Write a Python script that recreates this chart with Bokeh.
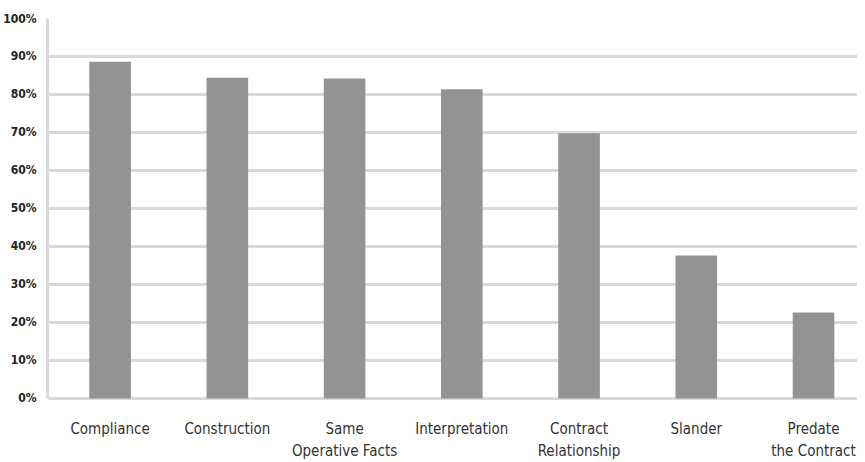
from bokeh.plotting import figure
from bokeh.models import ColumnDataSource, Range1d, FixedTicker
from bokeh.embed import file_html
from bokeh.resources import INLINE

categories = ["Compliance", "Construction", "Same\nOperative Facts", "Interpretation",
              "Contract\nRelationship", "Slander", "Predate\nthe Contract"]
values = [88.6, 84.4, 84.2, 81.4, 69.8, 37.6, 22.6]
y_ticks = [0, 10, 20, 30, 40, 50, 60, 70, 80, 90, 100]

x = list(range(len(categories)))
src = ColumnDataSource(dict(x=x, top=values))

FONT = "DejaVu Sans Condensed, Liberation Sans Narrow, sans-serif"

p = figure(width=857, height=454, output_backend="svg", toolbar_location=None,
           x_range=Range1d(-0.534, 6.375), y_range=Range1d(-2.9, 100),
           frame_height=391,
           min_border_left=40, min_border_right=0, min_border_top=18, min_border_bottom=40)
p.outline_line_color = None

p.vbar(x="x", top="top", bottom=0, width=0.355, source=src,
       fill_color="#939393", line_color=None)

p.xgrid.grid_line_color = None
p.ygrid.ticker = FixedTicker(ticks=y_ticks)
p.ygrid.grid_line_color = "#d9d9d9"
p.ygrid.grid_line_width = 3
p.ygrid.level = "underlay"

p.yaxis.ticker = FixedTicker(ticks=y_ticks)
p.yaxis.bounds = (0, 100)
p.yaxis.major_label_overrides = {t: f"{t}%" for t in y_ticks}
p.yaxis.axis_line_color = "#d9d9d9"
p.yaxis.axis_line_width = 3
p.yaxis.major_tick_line_color = None
p.yaxis.minor_tick_line_color = None
p.yaxis.major_label_text_font = FONT
p.yaxis.major_label_text_font_style = "bold"
p.yaxis.major_label_text_font_size = "12px"
p.yaxis.major_label_text_color = "#222222"
p.yaxis.major_label_standoff = 5

p.xaxis.ticker = FixedTicker(ticks=x)
p.xaxis.major_label_overrides = {i: c for i, c in zip(x, categories)}
p.xaxis.axis_line_color = None
p.xaxis.major_tick_line_color = None
p.xaxis.minor_tick_line_color = None
p.xaxis.major_label_text_font = FONT
p.xaxis.major_label_text_font_size = "15px"
p.xaxis.major_label_text_line_height = 1.25
p.xaxis.major_label_text_color = "#333333"
p.xaxis.major_label_standoff = 4

open("out.html", "w").write(file_html(p, INLINE))
